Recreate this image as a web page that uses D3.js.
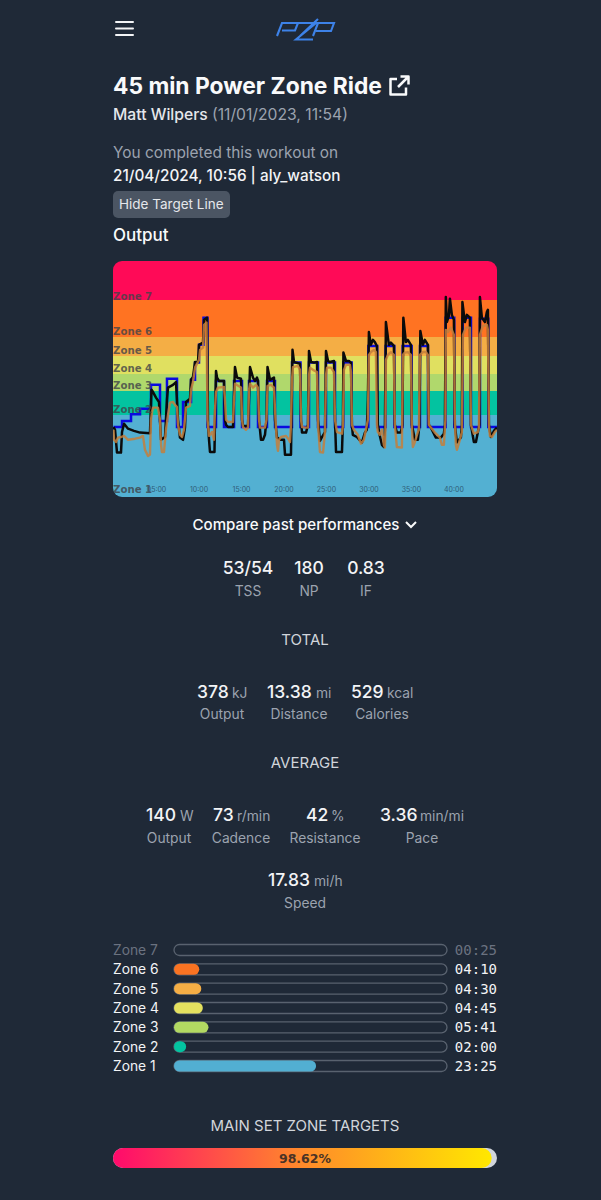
<!DOCTYPE html>
<html><head><meta charset="utf-8">
<script src="https://cdn.jsdelivr.net/npm/d3@7/dist/d3.min.js"></script>
<style>html,body{margin:0;padding:0;background:#1f2937}svg{display:block}text{font-family:Inter,"Noto Sans",sans-serif}</style>
</head><body><svg id="page" width="601" height="1200"></svg>
<script>
// ---- chart data: [minute, watts] ----
const targetPower = [[0,97],[1,108],[2.06,120],[3.12,130],[4.41,173],[5.47,108],[6.29,184],[7.47,97],[8.18,142],[9.12,182],[9.59,213],[10.06,245],[10.59,294],[11.06,97],[12.06,180],[13,97],[14.18,180],[15.12,97],[15.94,180],[17,97],[18.06,180],[19,97],[21,213],[22,97],[23,213],[24.06,97],[25,213],[26.06,97],[27.03,213],[28.02,97],[29.98,243],[31.03,97],[32.02,243],[33.04,97],[34.02,243],[35.08,97],[36.06,243],[37,97],[39.08,294],[40.09,97],[41.08,294],[42.06,97],[43.12,292],[44.09,97],[45.12,97]];
const outputPower = [[0,97],[.18,92],[.41,51],[.88,51],[1,88],[1.24,103],[1.71,94],[2.41,90],[3.12,87],[4.29,86],[4.47,164],[4.65,160],[5,150],[5.35,142],[5.59,74],[6.06,79],[6.29,146],[6.41,168],[7,173],[7.35,178],[7.59,110],[7.82,78],[8.18,74],[8.41,96],[8.53,142],[9,148],[9.12,182],[9.35,187],[9.59,214],[9.94,214],[10.06,245],[10.53,249],[10.65,290],[11,294],[11.12,101],[11.24,74],[11.35,52],[11.88,52],[11.94,110],[12.06,198],[12.18,186],[12.41,180],[13,180],[13.12,110],[13.24,101],[13.47,97],[14.06,97],[14.18,155],[14.29,205],[14.53,186],[15,184],[15.12,110],[15.24,99],[15.82,99],[15.94,146],[16.06,205],[16.41,186],[16.65,180],[16.88,186],[17,180],[17.12,110],[17.35,74],[17.59,74],[17.82,83],[18,110],[18.12,205],[18.41,182],[18.88,186],[19,110],[19.24,78],[19.71,74],[20.06,74],[20.18,47],[20.88,47],[20.94,110],[21.06,236],[21.24,214],[21.47,213],[21.94,211],[22.06,110],[22.18,87],[22.65,87],[22.88,101],[23,234],[23.24,214],[23.59,213],[23.94,214],[24.06,110],[24.29,72],[24.53,79],[24.88,88],[25,234],[25.24,216],[25.47,214],[25.94,216],[26.06,110],[26.18,52],[26.88,52],[27,110],[27.05,231],[27.35,216],[27.7,216],[27.94,213],[28.05,101],[28.16,83],[28.63,79],[29.22,69],[29.58,87],[29.8,92],[29.93,146],[30.05,268],[30.28,245],[30.52,254],[30.75,250],[30.99,243],[31.1,101],[31.34,81],[31.58,65],[31.81,61],[31.93,92],[32.05,286],[32.4,245],[32.63,249],[32.99,243],[33.1,101],[33.34,87],[33.81,87],[33.99,101],[34.1,294],[34.4,250],[34.63,254],[34.99,245],[35.1,101],[35.46,74],[35.81,74],[35.99,101],[36.1,270],[36.4,245],[36.63,254],[36.99,245],[37.1,101],[37.34,96],[37.93,78],[38.52,78],[38.87,85],[38.99,101],[39.1,331],[39.22,286],[39.46,297],[39.58,328],[39.81,299],[40.05,290],[40.16,101],[40.4,69],[40.87,78],[40.99,101],[41.05,322],[41.34,286],[41.58,299],[41.93,294],[42.05,101],[42.4,70],[42.64,70],[42.87,88],[43.05,101],[43.11,331],[43.34,294],[43.7,286],[43.93,304],[44.05,308],[44.17,101],[44.4,79],[44.76,90],[45.11,96]];
const pastPower = [[0,92],[.06,74],[.29,70],[.53,78],[.88,79],[1.24,81],[1.71,74],[2.53,76],[3.12,78],[3.47,81],[3.7,56],[4.06,45],[4.29,47],[4.41,110],[4.53,124],[4.65,132],[5.23,132],[5.47,110],[5.59,65],[5.7,52],[5.94,52],[6.17,92],[6.41,119],[6.64,141],[7,142],[7.23,137],[7.47,133],[7.59,101],[7.82,83],[8.06,79],[8.29,92],[8.53,132],[9,135],[9.12,164],[9.35,178],[9.59,204],[10.06,218],[10.18,236],[10.53,240],[10.65,281],[10.94,285],[11.06,110],[11.24,81],[11.59,88],[11.82,74],[11.94,128],[12.06,160],[12.29,168],[13,169],[13.12,146],[13.24,110],[13.47,106],[14.06,106],[14.18,146],[14.29,175],[15,168],[15.12,110],[15.24,97],[15.59,92],[15.82,96],[15.94,164],[16.06,175],[16.41,168],[16.76,173],[17,168],[17.12,110],[17.23,96],[17.82,96],[18,110],[18.12,171],[18.53,173],[18.88,168],[19.06,110],[19.24,65],[19.35,54],[19.47,74],[19.71,79],[20.29,81],[20.65,74],[20.76,70],[20.88,101],[21,182],[21.12,205],[21.7,207],[21.94,200],[22.06,110],[22.18,97],[22.53,96],[22.88,96],[23,191],[23.12,204],[23.47,200],[23.94,196],[24.06,101],[24.29,52],[24.65,51],[24.88,88],[25,191],[25.12,204],[25.59,204],[25.94,196],[26.06,110],[26.29,88],[26.88,85],[27,101],[27.11,200],[27.35,209],[27.82,209],[27.94,196],[28.05,101],[28.28,92],[28.75,83],[29.11,67],[29.46,74],[29.7,92],[29.93,110],[30.05,227],[30.28,232],[30.64,236],[30.87,232],[30.99,101],[31.1,88],[31.34,83],[31.58,92],[31.81,65],[31.93,60],[31.99,92],[32.05,218],[32.28,227],[32.63,232],[32.99,227],[33.1,101],[33.34,61],[33.93,60],[34.05,227],[34.28,231],[34.63,232],[34.99,227],[35.1,101],[35.22,61],[35.46,70],[35.81,88],[35.93,92],[36.05,227],[36.4,232],[36.75,232],[36.99,227],[37.1,101],[37.34,96],[37.81,87],[38.4,78],[38.63,65],[38.87,65],[39.05,110],[39.1,272],[39.34,268],[39.7,276],[40.05,263],[40.16,110],[40.28,65],[40.4,56],[40.75,74],[40.99,88],[41.11,263],[41.46,276],[41.93,276],[42.05,101],[42.4,85],[42.87,88],[42.99,96],[43.11,263],[43.46,279],[43.93,281],[44.05,272],[44.17,101],[44.28,81],[44.52,79],[44.87,88],[45.11,92]];
const zoneNames = ["Zone 7","Zone 6","Zone 5","Zone 4","Zone 3","Zone 2","Zone 1"];
const zoneTops = [396,325,260,225,192,161,119];
const zoneBottoms = [325,260,225,192,161,119,-29];
const zoneColors = ["#ff0a57","#ff7322","#f4ae45","#e0e060","#b0d86c","#03c3a0","#53b0d2"];
const zoneLabelWatts = [326,263,228,196,165,122,-21];
const tickMinutes = [5,10,15,20,25,30,35,40];
const zoneSeconds = [25,250,270,285,341,120,1405];
const zoneTimes = ["00:25","04:10","04:30","04:45","05:41","02:00","23:25"];
const zoneBarColors = ["none","#f97322","#f5ae45","#e4e15f","#b2d962","#03c3a0","#52afd2"];
const mainSetPercent = 98.62;
const summaryStats = [["53/54","TSS",248],["180","NP",309],["0.83","IF",366]];
const totalStats = [["378","kJ","Output",197,232,222],["13.38","mi","Distance",267,316,299],["529","kcal","Calories",351,387,382]];
const averageStats = [["140","W","Output",146,180,169],["73","r/min","Cadence",213,237,241],["42","%","Resistance",306,331,325],["3.36","min/mi","Pace",380,420,422]];
const speedStats = [["17.83","mi/h","Speed",268,314,305]];

const svg = d3.select("#page");
svg.append("rect").attr("width",601).attr("height",1200).attr("fill","#1f2937");
const txt = (s,x,y,size,fill,weight,anchor) => svg.append("text").text(s).attr("x",x).attr("y",y)
  .attr("font-size",size).attr("fill",fill).attr("font-weight",weight||400).attr("text-anchor",anchor||"start");

// header
[22,28.5,35].forEach(y=>svg.append("line").attr("x1",116).attr("x2",133).attr("y1",y).attr("y2",y).attr("stroke","#f3f4f6").attr("stroke-width",2).attr("stroke-linecap","round"));
svg.append("path").attr("fill","none").attr("stroke","#3d82e8").attr("stroke-width",2.1)
  .attr("d","M277,36 L282,23 L298,23 L295,30.5 L282,30.5 M292,23 H316 L296,39.5 H313 M300,36 L318,19 M313,36 L318,23 H334 L331,31 H316");

txt("45 min Power Zone Ride",113,94,22.8,"#f9fafb",700);
svg.append("path").attr("fill","none").attr("stroke","#f9fafb").attr("stroke-width",2.5).attr("stroke-linejoin","round")
  .attr("d","M397,79 H390.5 V94.5 H406 V87.5 M398,87 L408,77 M400.5,76.5 H408.5 V84.5");
const sub = txt("Matt Wilpers ",113,120,15.7,"#e5e7eb",500);
sub.append("tspan").text("(11/01/2023, 11:54)").attr("fill","#9ca3af").attr("font-weight",400);
txt("You completed this workout on",113,158,15.4,"#9ca3af",400);
txt("21/04/2024, 10:56 | aly_watson",113,181,15.3,"#f3f4f6",500);
svg.append("rect").attr("x",113).attr("y",191).attr("width",117).attr("height",27).attr("rx",5).attr("fill","#4b5563");
txt("Hide Target Line",119,209,13.5,"#e5e7eb",400);
txt("Output",113,241,17,"#f9fafb",500);

// chart
const chartL=113, chartR=497, chartT=261, chartB=497;
const x = d3.scaleLinear().domain([-0.06,45.12]).range([chartL,chartR]);
const y = d3.scaleLinear().domain([-29,396]).range([chartB,chartT]);
svg.append("clipPath").attr("id","chartClip").append("rect")
  .attr("x",chartL).attr("y",chartT).attr("width",chartR-chartL).attr("height",chartB-chartT).attr("rx",9);
const chart = svg.append("g").attr("clip-path","url(#chartClip)");
chart.selectAll("rect.zone").data(zoneNames).join("rect").attr("class","zone")
  .attr("x",chartL).attr("width",chartR-chartL)
  .attr("y",(d,i)=>y(zoneTops[i])).attr("height",(d,i)=>y(zoneBottoms[i])-y(zoneTops[i]))
  .attr("fill",(d,i)=>zoneColors[i]).attr("shape-rendering","crispEdges");
const line = d3.line().x(d=>x(d[0])).y(d=>y(d[1]));
chart.append("path").datum(targetPower).attr("fill","none").attr("stroke","#0a0ae0").attr("stroke-width",2.5)
  .attr("d",d3.line().curve(d3.curveStepAfter).x(d=>x(d[0])).y(d=>y(d[1])));
chart.append("path").datum(outputPower).attr("fill","none").attr("stroke","#0b0b0b").attr("stroke-width",2.5).attr("stroke-linejoin","round").attr("d",line);
chart.append("path").datum(pastPower).attr("fill","none").attr("stroke","#c47f3c").attr("stroke-opacity",.85).attr("stroke-width",2.4).attr("stroke-linejoin","round").attr("d",line);
chart.selectAll("text.zl").data(zoneNames).join("text").attr("class","zl").text(d=>d)
  .attr("x",chartL).attr("y",(d,i)=>y(zoneLabelWatts[i]))
  .attr("font-size",10.2).attr("font-weight",700).attr("fill","#3f4348").attr("fill-opacity",.8)
  .style("font-family","'DejaVu Sans'");
const axis = d3.axisBottom(x).tickValues(tickMinutes).tickSize(0).tickFormat(d=>String(d).padStart(2,"0")+":00");
const ag = chart.append("g").attr("transform",`translate(0,${chartB-12})`).call(axis);
ag.select(".domain").remove();
ag.selectAll("text").attr("font-size",7).attr("fill","#2f5d78").attr("dy",".55em");

txt("Compare past performances",296,530,15.1,"#f9fafb",500,"middle");
svg.append("path").attr("fill","none").attr("stroke","#f9fafb").attr("stroke-width",2).attr("d","M406,522 L411,527 L416,522");

// stats
summaryStats.forEach(d=>{txt(d[0],d[2],574,17.5,"#f3f4f6",500,"middle");txt(d[1],d[2],596,13.8,"#9ca3af",400,"middle");});
txt("TOTAL",305,645,15,"#d1d5db",400,"middle");
txt("AVERAGE",305,768,15,"#d1d5db",400,"middle");
const statRow=(rows,yv,yl)=>rows.forEach(d=>{txt(d[0],d[3],yv,17.5,"#f3f4f6",500);txt(d[1],d[4],yv,13.8,"#9ca3af",400);txt(d[2],d[5],yl,13.8,"#9ca3af",400,"middle");});
statRow(totalStats,698,719);
statRow(averageStats,821,843);
statRow(speedStats,886,908);

// zone bars
const barX = d3.scaleLinear().domain([0,2700]).range([0,273]);
const rowY = d3.scalePoint().domain(zoneNames).range([950,1066]);
const rows = svg.selectAll("g.row").data(zoneNames).join("g").attr("class","row").attr("transform",d=>`translate(0,${rowY(d)})`);
rows.append("text").text(d=>d).attr("x",113).attr("y",5).attr("font-size",13.8).attr("font-weight",400)
  .attr("fill",(d,i)=>i===0?"#6b7280":"#f3f4f6");
rows.append("rect").attr("x",174).attr("y",-5.5).attr("width",273).attr("height",11).attr("rx",5.5).attr("fill","none").attr("stroke","#59626f").attr("stroke-width",1.3);
rows.append("rect").attr("x",174).attr("y",-5.5).attr("height",11).attr("rx",5.5)
  .attr("width",(d,i)=>barX(zoneSeconds[i])).attr("fill",(d,i)=>zoneBarColors[i]);
rows.append("text").text((d,i)=>zoneTimes[i]).attr("x",497).attr("y",5).attr("text-anchor","end")
  .attr("font-size",14).attr("fill",(d,i)=>i===0?"#6b7280":"#f3f4f6").style("font-family","'DejaVu Sans Mono'");

// main set
txt("MAIN SET ZONE TARGETS",305,1131,15,"#d1d5db",400,"middle");
const grad = svg.append("linearGradient").attr("id","mainGrad");
[["0%","#ff0a6c"],["50%","#ff8a2a"],["100%","#ffe800"]].forEach(s=>grad.append("stop").attr("offset",s[0]).attr("stop-color",s[1]));
svg.append("rect").attr("x",113).attr("y",1148).attr("width",384).attr("height",20).attr("rx",10).attr("fill","#d1d5db");
const pct = d3.scaleLinear().domain([0,100]).range([0,384]);
svg.append("rect").attr("x",113).attr("y",1148).attr("width",pct(mainSetPercent)).attr("height",20).attr("rx",10).attr("fill","url(#mainGrad)");
txt(mainSetPercent+"%",305,1163,12.5,"#4a3326",700,"middle").style("font-family","'DejaVu Sans'");
</script></body></html>
